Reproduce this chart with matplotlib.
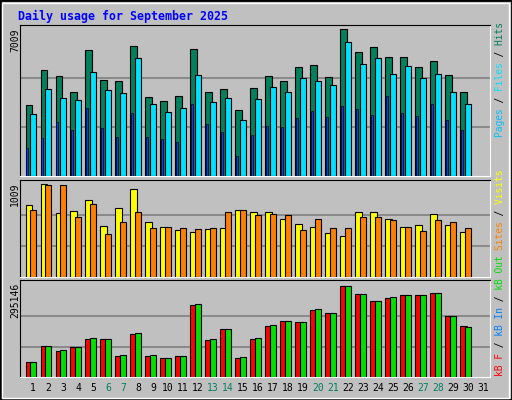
import matplotlib
matplotlib.use("Agg")
import matplotlib.pyplot as plt
from matplotlib.patches import Rectangle

days = list(range(1, 32))
hits = [3385,5053,4767,4004,6007,4576,4529,6197,3766,3575,3814,6054,4004,4147,3146,4195,4767,4529,5196,5291,4719,7009,5911,6149,5673,5673,5196,5482,4815,4004]
files = [2956,4147,3718,3623,4958,4100,3957,5625,3432,3051,3242,4815,3528,3718,2670,3671,4243,4004,4672,4529,4338,6388,5339,5625,4862,5244,4672,4862,4004,3432]
pages = [1335,1811,2574,2193,3242,2288,1859,3003,1859,1764,1621,3432,2479,2097,953,1954,2384,2336,2765,3099,2813,3337,3194,2908,3814,3003,2860,3432,2670,2193]
visits = [778,1009,690,712,833,558,745,954,602,547,514,492,525,536,723,701,701,624,580,547,481,448,701,701,624,547,569,679,569,492]
sites = [723,998,998,646,789,470,602,701,536,547,536,525,536,701,723,668,679,668,514,624,536,536,646,646,613,547,503,613,602,536]
kb_out = [48650,100540,87570,97300,126480,123230,71350,142700,71350,61620,68100,236740,123230,155670,64860,126480,168640,181610,178370,220520,207550,295146,269170,246470,259440,265930,265930,272410,197820,162150]
kb_f = [48650,100540,84330,97300,123230,123230,68100,139460,68100,61620,68100,233500,120000,155670,61620,123230,165400,181610,178370,217280,207550,295146,269170,246470,256200,265930,265930,272410,197820,165400]
weekend = [6, 7, 13, 14, 20, 21, 27, 28]

W, H = 512, 400
fig = plt.figure(figsize=(W/100, H/100), dpi=100, facecolor="#c0c0c0")
fig.patches.append(Rectangle((0, 0), 1, 1, transform=fig.transFigure, fill=False, ec="black", lw=2))
fig.patches.append(Rectangle((2/W, 2/H), 1-5/W, 1-5/H, transform=fig.transFigure, fill=False, ec="white", lw=1))
mono = "DejaVu Sans Mono"

fig.text(18/W, 1-16/H, "Daily usage for September 2025", color="#0000ff", family=mono,
         weight="bold", fontsize=8.4, va="center", ha="left")

def mkax(top, bot):
    ax = fig.add_axes([20/W, 1-bot/H, 470/W, (bot-top)/H])
    ax.set_facecolor("#c0c0c0")
    ax.set_xlim(0.133, 31.47)
    for s in ("left", "top"):
        ax.spines[s].set_color("black")
    for s in ("right", "bottom"):
        ax.spines[s].set_color("white")
    ax.set_xticks([]); ax.set_yticks([])
    return ax

n = len(hits)
x = days[:n]
bw = 0.44

ax1 = mkax(25, 176)
mx = max(hits)
ax1.set_ylim(0, mx*151/147)
for g in (mx/3, 2*mx/3):
    ax1.axhline(g, color="#808080", lw=1.2, zorder=0)
ax1.bar([d-0.5 for d in x], hits, width=bw, align="edge", color="#00805c", ec="black", lw=0.8, zorder=2)
ax1.bar([d-0.23 for d in x], files, width=bw, align="edge", color="#00e0ff", ec="black", lw=0.8, zorder=3)
ax1.bar([d-0.45 for d in x], pages, width=0.12, align="edge", color="#0040ff", ec="black", lw=0.5, zorder=4)

ax2 = mkax(180, 277)
mv = max(visits)
ax2.set_ylim(0, mv*97/93)
for g in (mv/3, 2*mv/3):
    ax2.axhline(g, color="#808080", lw=1.2, zorder=0)
ax2.bar([d-0.5 for d in x], visits, width=bw, align="edge", color="#ffff00", ec="black", lw=0.8, zorder=2)
ax2.bar([d-0.23 for d in x], sites, width=bw, align="edge", color="#ff8000", ec="black", lw=0.8, zorder=3)

ax3 = mkax(280, 377)
mk = max(kb_out)
ax3.set_ylim(0, mk*97/91)
for g in (mk/3, 2*mk/3):
    ax3.axhline(g, color="#808080", lw=1.2, zorder=0)
ax3.bar([d-0.5 for d in x], kb_f, width=bw, align="edge", color="#ff0000", ec="black", lw=0.8, zorder=2)
ax3.bar([d-0.23 for d in x], kb_out, width=bw, align="edge", color="#00e000", ec="black", lw=0.8, zorder=3)
ax3.set_xticks(days)
ax3.set_xticklabels([str(d) for d in days], family=mono, fontsize=7)
ax3.tick_params(length=0, pad=4)
for lbl, d in zip(ax3.get_xticklabels(), days):
    lbl.set_color("#00805c" if d in weekend else "black")

for y, txt in ((25, f"{max(hits)}"), (180, f"{max(visits)}"), (280, f"{max(kb_out)}")):
    fig.text(15/W, 1-(y+3)/H, txt, rotation=90, family=mono, fontsize=7, ha="center", va="top")

def rlabel(ybot, s, parts):
    for sub, col in parts:
        masked = "".join(c if (i >= sub[0] and i < sub[1]) else " " for i, c in enumerate(s))
        fig.text(500/W, 1-ybot/H, masked, rotation=90, family=mono, fontsize=6.9,
                 ha="center", va="bottom", color=col)

rlabel(137, "Pages / Files / Hits", [((0, 5), "#00c0ff"), ((5, 8), "black"), ((8, 13), "#00e0ff"), ((13, 16), "black"), ((16, 20), "#00805c")])
rlabel(250, "Sites / Visits", [((0, 5), "#ff8000"), ((5, 8), "black"), ((8, 14), "#ffff00")])
rlabel(376, "kB F / kB In / kB Out", [((0, 4), "#ff0000"), ((4, 7), "black"), ((7, 12), "#0080ff"), ((12, 15), "black"), ((15, 21), "#00e000")])

fig.savefig("out.png", dpi=100, facecolor=fig.get_facecolor())
